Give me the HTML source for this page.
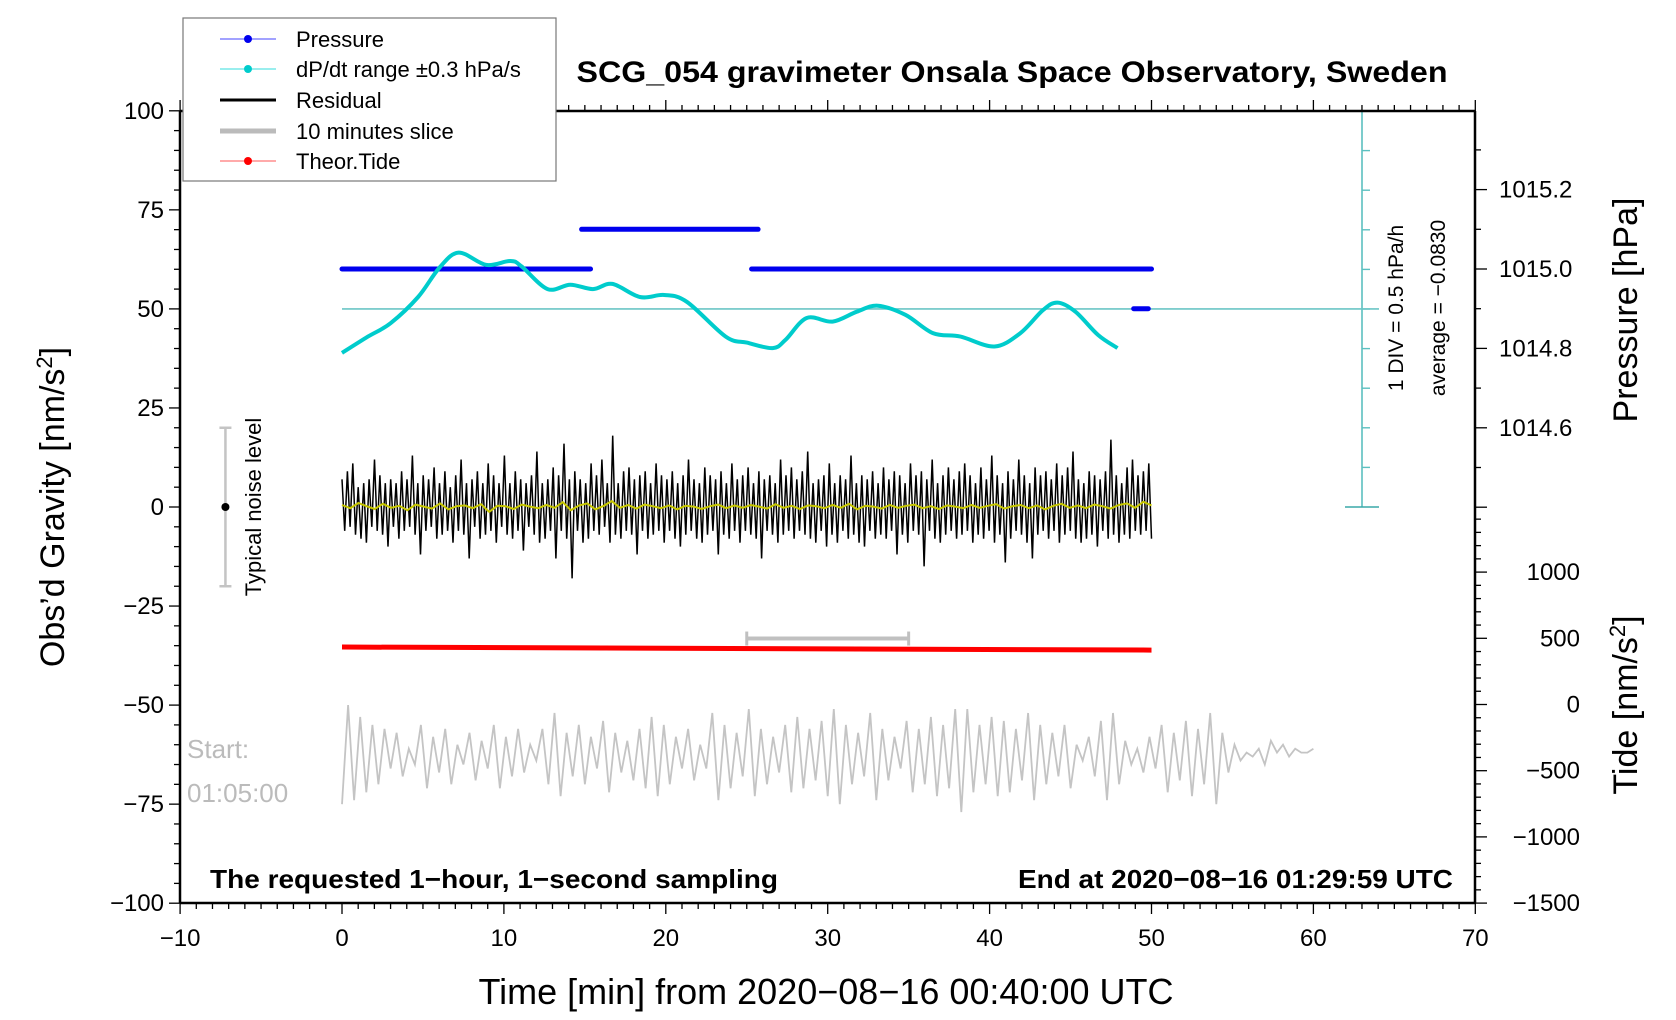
<!DOCTYPE html>
<html><head><meta charset="utf-8"><style>
html,body{margin:0;padding:0;background:#fff;}
svg{display:block;font-family:"Liberation Sans",Arial,sans-serif;}
</style></head><body>
<svg id="chart" width="1676" height="1020" viewBox="0 0 1676 1020" xmlns="http://www.w3.org/2000/svg">
<rect width="1676" height="1020" fill="#fff"/>
<g id="plot"></g>
<text x="1012" y="82" text-anchor="middle" font-size="30" font-weight="bold" textLength="871" lengthAdjust="spacingAndGlyphs">SCG_054 gravimeter Onsala Space Observatory, Sweden</text>
<text transform="translate(64,507) rotate(-90)" text-anchor="middle" font-size="34">Obs’d Gravity [nm/s<tspan dy="-12" font-size="22">2</tspan><tspan dy="12">]</tspan></text>
<text x="826" y="1004" text-anchor="middle" font-size="36">Time [min] from 2020−08−16 00:40:00 UTC</text>
<text transform="translate(1637,310) rotate(-90)" text-anchor="middle" font-size="34">Pressure [hPa]</text>
<text transform="translate(1637,705) rotate(-90)" text-anchor="middle" font-size="34">Tide [nm/s<tspan dy="-12" font-size="22">2</tspan><tspan dy="12">]</tspan></text>
<text transform="translate(1403,308) rotate(-90)" text-anchor="middle" font-size="21">1 DIV = 0.5 hPa/h</text>
<text transform="translate(1445,308) rotate(-90)" text-anchor="middle" font-size="21">average = −0.0830</text>
<text transform="translate(261,507) rotate(-90)" text-anchor="middle" font-size="22">Typical noise level</text>
<text x="187" y="758" font-size="26" fill="#bbbbbb">Start:</text>
<text x="187" y="802" font-size="26" fill="#bbbbbb">01:05:00</text>
<text x="210" y="888" font-size="26" font-weight="bold" textLength="568" lengthAdjust="spacingAndGlyphs">The requested 1−hour, 1−second sampling</text>
<text x="1453" y="888" text-anchor="end" font-size="26" font-weight="bold" textLength="435" lengthAdjust="spacingAndGlyphs">End at 2020−08−16 01:29:59 UTC</text>
<g id="legend">
<rect x="183" y="18" width="373" height="163" fill="#fff" stroke="#777" stroke-width="1.2"/>
</g>
</svg>
<script>
const xTicks=[-10,0,10,20,30,40,50,60,70];
const gTicks=[100,75,50,25,0,-25,-50,-75,-100];
const pTicks=[1015.2,1015.0,1014.8,1014.6];
const tTicks=[1000,500,0,-500,-1000,-1500];
const cyanT=[0,1.6,3.0,4.7,6.0,7.2,8.9,10.4,11.1,12.7,14.1,15.5,16.7,18.4,19.9,21.3,23.7,25.0,26.6,27.4,28.7,30.3,31.8,33.1,34.8,36.5,38.2,40.3,41.9,43.3,44.2,45.3,46.7,47.9];
const cyanG=[38.9,43,46.4,53,60.3,64.2,61.1,62.1,60.7,55,56.1,55,56.3,53,53.5,51.8,43,41.5,40.1,42.2,47.7,46.8,49.3,50.8,48.5,43.9,43,40.5,43.9,49.7,51.6,49.3,43.4,40.1];
const presStart=[0,14.8,25.3,48.9];
const presEnd=[15.35,25.7,50,49.8];
const presVal=[1015.0,1015.1,1015.0,1014.9];
const residual=[7,-6,9,-5,11,-7,5,-8,6,-9,7,-5,12,-6,8,-7,6,-10,7,-5,
6,-8,9,-6,7,-5,13,-7,6,-12,8,-6,7,-5,10,-8,6,-7,9,-6,
5,-9,8,-6,12,-7,6,-13,7,-5,9,-8,6,-7,11,-6,8,-9,6,-5,
13,-7,6,-8,9,-6,7,-11,6,-5,8,-7,14,-9,6,-8,7,-6,10,-13,
8,-6,16,-8,7,-18,9,-6,7,-9,6,-8,11,-6,8,-7,12,-5,6,-9,
18,-7,6,-8,9,-6,10,-7,7,-12,8,-6,9,-8,6,-7,11,-6,8,-9,
7,-6,9,-8,6,-10,8,-7,12,-6,7,-8,6,-9,10,-7,8,-6,7,-12,
9,-7,6,-8,11,-6,7,-9,8,-6,10,-7,6,-8,9,-13,7,-6,8,-7,
6,-9,12,-7,8,-6,10,-8,7,-6,9,-7,14,-8,6,-9,7,-6,8,-10,
11,-7,6,-9,8,-6,7,-8,13,-7,6,-9,8,-10,7,-6,9,-8,6,-7,
10,-8,7,-6,9,-12,8,-7,6,-9,11,-6,8,-7,9,-15,7,-6,12,-8,
6,-9,8,-7,10,-6,7,-8,9,-7,11,-6,8,-9,6,-7,10,-8,7,-6,
13,-9,8,-7,6,-14,9,-8,7,-6,12,-7,8,-9,6,-13,10,-7,8,-6,
9,-8,7,-6,11,-9,8,-7,10,-6,14,-8,7,-9,6,-8,9,-7,8,-10,
7,-6,9,-8,17,-7,8,-9,6,-7,10,-8,12,-6,8,-7,9,-6,11,-8];
const smooth=[0.5,-0.3,1,0.2,-0.5,0.8,-0.2,0.3,-0.8,0.6,0.1,-0.4,0.9,-0.6,0.2,0.4,-0.3,0.7,-1.2,0.3,
0.2,-0.5,0.6,0.1,-0.3,0.5,-0.2,1.2,-0.8,0.4,0.9,-0.6,0.3,1.5,-0.2,0.5,-0.4,0.6,0.2,-0.3,
0.4,-0.6,0.3,0.1,-0.5,0.2,0.6,-0.3,0.4,-0.2,0.5,0.1,-0.4,0.7,-0.2,0.3,-0.5,0.4,0.2,-0.3,
0.5,-0.2,0.8,-0.6,0.3,0.1,-0.4,0.5,-0.2,0.3,0.6,-0.3,0.2,-0.5,0.4,0.1,-0.3,0.5,-0.2,0.3,
0.7,-0.4,0.2,0.5,-0.3,0.4,-0.6,0.3,0.8,-0.2,0.4,-0.3,0.6,0.2,-0.4,0.5,0.9,-0.2,1.3,0.4];
const slice=[-75,-50,-74,-53,-72,-55,-70,-56,-66,-57,-68,-61,-65,-55,-71,-58,-67,-56,-70,-60,-65,
-57,-69,-59,-66,-55,-71,-58,-68,-56,-67,-60,-64,-56,-70,-52,-73,-57,-68,-55,-70,
-58,-66,-54,-72,-57,-67,-59,-69,-56,-71,-53,-73,-55,-70,-58,-66,-56,-69,-60,-66,
-52,-74,-55,-71,-57,-68,-51,-73,-56,-70,-58,-67,-55,-72,-53,-71,-56,-69,-54,-73,
-51,-75,-55,-70,-57,-68,-52,-74,-56,-69,-58,-66,-54,-72,-56,-70,-53,-73,-55,-71,
-51,-77,-51,-72,-55,-70,-53,-73,-54,-72,-56,-69,-52,-74,-55,-70,-57,-68,-55,-71,
-60,-64,-58,-68,-54,-74,-52,-70,-59,-65,-61,-67,-58,-66,-55,-72,-57,-69,-54,-73,
-56,-70,-52,-75,-57,-67,-60,-64,-62,-63,-61,-65,-59,-62,-60,-63,-61,-62,-62,-61];
const tideT=[0,50];
const tideV=[434,411];
const sliceBarT=[25,35];
const sliceBarG=[-33.2];

const L=180,R=1475,T=111,B=903;
function X(t){return 342+t*16.19;}
function Y(g){return 507-g*3.962;}
function YP(p){return 269-(p-1015.0)*397;}
function YT(v){return 704.5-v*0.1324;}
const NS='http://www.w3.org/2000/svg';
const plot=document.getElementById('plot');
function mk(tag,at,parent){const e=document.createElementNS(NS,tag);for(const k in at)e.setAttribute(k,at[k]);(parent||plot).appendChild(e);return e;}
function line(x1,y1,x2,y2,st,w,p){return mk('line',{x1,y1,x2,y2,stroke:st,'stroke-width':w},p);}

const cy=mk('g',{});


line(1362,T,1362,507,'#5cc0c0',1.6,cy);
line(1345,507,1379,507,'#3aa8a8',1.6,cy);
line(1345,T,1379,T,'#3aa8a8',1.6,cy);
for(let i=1;i<10;i++){line(1362,T+i*39.6,1370,T+i*39.6,'#5cc0c0',1.4,cy);}
const ref=line(X(0),Y(50),1379,Y(50),'#6cc6c6',1.6);



let d='';
residual.forEach((v,i)=>{d+=(i?'L':'M')+X(i*50/(residual.length-1)).toFixed(1)+','+Y(v).toFixed(1);});
const rp=mk('path',{d,fill:'none',stroke:'#000','stroke-width':1.5});


d='';
smooth.forEach((v,i)=>{d+=(i?'L':'M')+X(i*50/(smooth.length-1)).toFixed(1)+','+Y(v).toFixed(1);});
const sp=mk('path',{d,fill:'none',stroke:'#c8c800','stroke-width':2});



d='';
slice.forEach((v,i)=>{d+=(i?'L':'M')+X(i*60/(slice.length-1)).toFixed(1)+','+Y(v).toFixed(1);});
const gp=mk('path',{d,fill:'none',stroke:'#c4c4c4','stroke-width':1.8});



const sb=mk('g',{});


line(X(sliceBarT[0]),Y(sliceBarG[0]),X(sliceBarT[1]),Y(sliceBarG[0]),'#c0c0c0',4,sb);
line(X(sliceBarT[0]),Y(sliceBarG[0])-7,X(sliceBarT[0]),Y(sliceBarG[0])+7,'#c0c0c0',3,sb);
line(X(sliceBarT[1]),Y(sliceBarG[0])-7,X(sliceBarT[1]),Y(sliceBarG[0])+7,'#c0c0c0',3,sb);

const tl=line(X(tideT[0]),YT(tideV[0]),X(tideT[1]),YT(tideV[1]),'#ff0000',5);



presVal.forEach((p,i)=>{
 const e=line(X(presStart[i]),YP(p),X(presEnd[i]),YP(p),'#0000ee',5);
 e.setAttribute('stroke-linecap','round');
 
 
});

// smooth cyan curve (Catmull-Rom through data points)
const pts=cyanT.map((t,i)=>[X(t),Y(cyanG[i])]);
d='M'+pts[0][0].toFixed(1)+','+pts[0][1].toFixed(1);
for(let i=0;i<pts.length-1;i++){
 const p0=pts[Math.max(0,i-1)],p1=pts[i],p2=pts[i+1],p3=pts[Math.min(pts.length-1,i+2)];
 const c1x=p1[0]+(p2[0]-p0[0])/6,c1y=p1[1]+(p2[1]-p0[1])/6;
 const c2x=p2[0]-(p3[0]-p1[0])/6,c2y=p2[1]-(p3[1]-p1[1])/6;
 d+='C'+c1x.toFixed(1)+','+c1y.toFixed(1)+' '+c2x.toFixed(1)+','+c2y.toFixed(1)+' '+p2[0].toFixed(1)+','+p2[1].toFixed(1);
}
const cp=mk('path',{d,fill:'none',stroke:'#00cccc','stroke-width':4,'stroke-linejoin':'round'});



const nb=mk('g',{});


line(X(-7.2),Y(20),X(-7.2),Y(-20),'#c4c4c4',2.5,nb);
line(X(-7.2)-6,Y(20),X(-7.2)+6,Y(20),'#c4c4c4',2.5,nb);
line(X(-7.2)-6,Y(-20),X(-7.2)+6,Y(-20),'#c4c4c4',2.5,nb);
mk('circle',{cx:X(-7.2),cy:Y(0),r:4,fill:'#000'},nb);

const ax=mk('g',{});


line(L,T,R,T,'#000',2.5,ax);line(L,B,R,B,'#000',2.5,ax);
line(L,T,L,B,'#000',2.5,ax);line(R,T,R,B,'#000',2.5,ax);
for(let t=-10;t<=70;t++){const maj=t%10===0;const x=X(t);
 line(x,T,x,T-(maj?11:6),'#000',1.3,ax);line(x,B,x,B+(maj?11:6),'#000',1.3,ax);}
for(let g=-100;g<=100;g+=5){const maj=g%25===0;line(L,Y(g),L-(maj?11:6),Y(g),'#000',1.3,ax);}
for(let k=0;k<=9;k++){const p=1015.3-k*0.1;const y=YP(p);const maj=Math.round(p*10)%2===0;line(R,y,R+(maj?12:6),y,'#000',1.3,ax);}
for(let v=-1500;v<=1400;v+=100){const y=YT(v);if(y<515)continue;const maj=v%500===0;line(R,y,R+(maj?12:6),y,'#000',1.3,ax);}

function txt(s,x,y,anchor,size,name){const e=mk('text',{x,y,'text-anchor':anchor,'font-size':size});e.textContent=s;return e;}
xTicks.forEach(t=>txt(String(t).replace('-','−'),X(t),946,'middle',24,'x-tick-label'));
gTicks.forEach(g=>txt(String(g).replace('-','−'),L-16,Y(g)+8,'end',24,'y-tick-label'));
pTicks.forEach(p=>txt(p.toFixed(1),1499,YP(p)+8,'start',24,'pressure-tick-label'));
tTicks.forEach(v=>txt(String(v).replace('-','−'),1580,YT(v)+8,'end',24,'tide-tick-label'));

const lg=document.getElementById('legend');
const labels=['Pressure','dP/dt range ±0.3 hPa/s','Residual','10 minutes slice','Theor.Tide'];
const lcol=['#4444ff','#33dddd','#000','#bbbbbb','#ff5555'];
const dcol=['#0000ee','#00cccc',null,null,'#ff0000'];
const lw=[1,1,3,5,1];
const ly=[39,69,100,131,161];
labels.forEach((s,i)=>{
 const row=mk('g',{},lg);
 
 
 line(220,ly[i],276,ly[i],lcol[i],lw[i],row);
 if(dcol[i])mk('circle',{cx:248,cy:ly[i],r:4,fill:dcol[i]},row);
 const t=mk('text',{x:296,y:ly[i]+8,'font-size':22},row);t.textContent=s;
});
</script>
</body></html>
